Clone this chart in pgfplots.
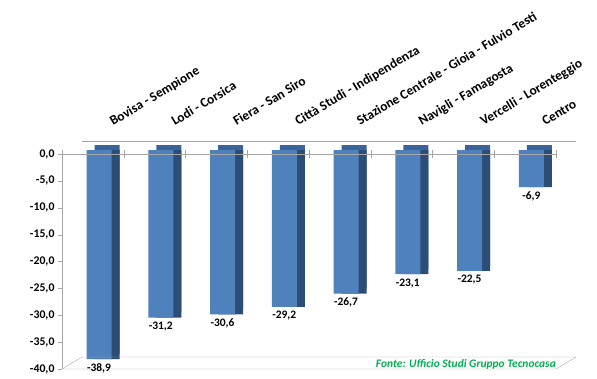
\documentclass[border=0pt]{standalone}
\usepackage{fontspec}
\setmainfont{Carlito}
\usepackage{pgfplots}
\usepackage{pgfplotstable}
\pgfplotsset{compat=1.18}
\definecolor{front}{HTML}{4F81BD}
\definecolor{side}{HTML}{2C4D75}
\definecolor{topc}{HTML}{3A6499}
\definecolor{axgray}{HTML}{A6A6A6}
\definecolor{srcgreen}{HTML}{00B050}
\pgfkeys{/pgf/number format/.cd, use comma, fixed, fixed zerofill, precision=1, assume math mode=true}
\pgfplotstableread{
x v
0 -38.9
1 -31.2
2 -30.6
3 -29.2
4 -26.7
5 -23.1
6 -22.5
7 -6.9
}\datatable
\begin{document}
\begin{tikzpicture}
\useasboundingbox (-62bp,-10bp) rectangle (535bp,369bp);
\begin{axis}[
  scale only axis, width=494bp, height=215bp,
  xmin=-0.6, xmax=7.4, ymin=-40, ymax=0,
  axis x line*=top, axis y line*=left,
  axis line style={draw=axgray, -},
  axis on top,
  xtick={0,...,7},
  xticklabels={Bovisa - Sempione, Lodi - Corsica, Fiera - San Siro, Città Studi - Indipendenza, Stazione Centrale - Gioia - Fulvio Testi, Navigli - Famagosta, Vercelli - Lorenteggio, Centro},
  x tick style={draw=none},
  xticklabel style={xshift=14bp, yshift=24bp, rotate=31, anchor=base west, font=\fontsize{13.4}{15}\selectfont\bfseries, inner sep=0pt},
  ytick={-40,-35,...,0},
  y tick style={draw=axgray},
  tick align=outside, major tick length=4bp,
  yticklabel style={font=\fontsize{11.8}{14}\selectfont\bfseries},
  clip=false,
]
\addplot[ybar, bar width=25bp, bar shift=0pt, fill=topc, draw=none, xshift=8bp, yshift=9bp] table[x=x,y=v]{\datatable};
\addplot[ybar, bar width=25bp, bar shift=0pt, fill=side, draw=none, xshift=8bp, yshift=4bp] table[x=x,y=v]{\datatable};
\addplot[ybar, bar width=25bp, bar shift=0pt, fill=front, draw=none, yshift=4bp,
  nodes near coords, nodes near coords style={font=\fontsize{11.5}{13}\selectfont\bfseries, text=black, anchor=north, yshift=-1bp}] table[x=x,y=v]{\datatable};
\pgfplotsinvokeforeach{0,...,8}{
  \draw[axgray] ([yshift=-4bp]axis cs:{-0.6+#1},0) -- ([yshift=4bp]axis cs:{-0.6+#1},0);
}
\draw[axgray] (axis cs:-0.6,-40) -- (axis cs:7.4,-40) -- ([xshift=20bp,yshift=12bp]axis cs:7.4,-40) -- ([xshift=20bp,yshift=12bp]axis cs:-0.6,-40) -- cycle;
\draw[axgray] ([xshift=20bp,yshift=13bp]axis cs:-0.6,0) -- ([xshift=20bp,yshift=13bp]axis cs:7.4,0);
\node[anchor=east, inner sep=0pt, yshift=5bp, text=srcgreen, font=\fontsize{11.5}{13}\selectfont\bfseries\itshape] at (rel axis cs:1,0) {Fonte: Ufficio Studi Gruppo Tecnocasa};
\end{axis}
\end{tikzpicture}
\end{document}
